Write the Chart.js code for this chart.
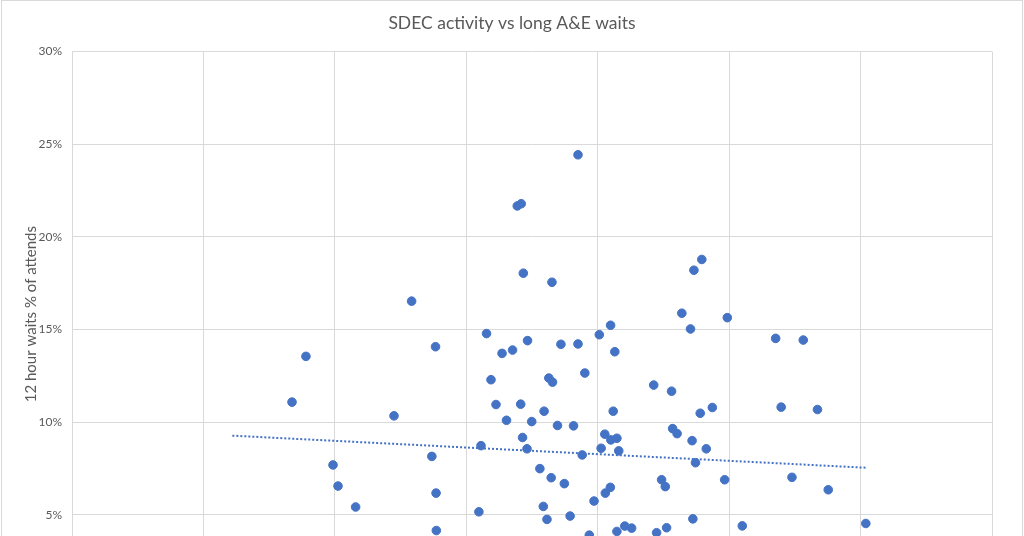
<!DOCTYPE html>
<html>
<head>
<meta charset="utf-8">
<script src="https://cdn.jsdelivr.net/npm/chart.js@4"></script>
<style>
  body { margin: 0; background: #fff; overflow: hidden; }
  #wrap { position: absolute; left: 1px; top: 0; width: 1020px; height: 700px; border: 1px solid #d9d9d9; }
</style>
</head>
<body>
<div id="wrap"><canvas id="myChart" width="1020" height="700"></canvas></div>
<script>
// SDEC activity (% of attends) - x values
var sdecPct = [8.37, 8.90, 9.93, 10.12, 10.79, 12.25, 12.92, 13.69, 13.83, 13.85,
    13.86, 15.48, 15.56, 15.77, 15.94, 16.13, 16.36, 16.53, 16.76, 16.94,
    17.09, 17.07, 17.14, 17.17, 17.31, 17.33, 17.49, 17.80, 17.93, 17.96,
    18.07, 18.14, 18.23, 18.28, 18.26, 18.47, 18.60, 18.73, 18.95, 19.08,
    19.25, 19.25, 19.41, 19.51, 19.68, 19.86, 20.06, 20.13, 20.27, 20.29,
    20.50, 20.48, 20.49, 20.59, 20.65, 20.73, 20.73, 20.80, 21.03, 21.29,
    22.13, 22.24, 22.43, 22.57, 22.62, 22.81, 22.85, 23.02, 23.20, 23.53,
    23.59, 23.62, 23.66, 23.72, 23.90, 23.96, 24.13, 24.36, 24.83, 24.93,
    25.50, 26.77, 26.98, 27.39, 27.82, 28.36, 28.77, 30.20, 22.82];

// 12 hour waits % of attends - y values
var waitsPct = [11.08, 13.55, 7.69, 6.55, 5.42, 10.34, 16.53, 8.15, 14.07, 6.17,
    4.15, 5.16, 8.73, 14.78, 12.29, 10.95, 13.71, 10.10, 13.89, 21.67,
    21.79, 10.97, 9.17, 18.04, 8.56, 14.40, 10.03, 7.49, 5.45, 10.59,
    4.75, 12.38, 7.00, 12.16, 17.55, 9.82, 14.20, 6.68, 4.93, 9.80,
    14.22, 24.43, 8.23, 12.65, 3.90, 5.74, 14.72, 8.59, 9.35, 6.17,
    9.04, 6.48, 15.23, 10.59, 13.80, 4.10, 9.13, 8.45, 4.39, 4.28,
    12.00, 4.03, 6.89, 6.52, 4.30, 11.67, 9.65, 9.38, 15.88, 15.03,
    9.00, 4.78, 18.20, 7.81, 10.48, 18.78, 8.56, 10.79, 6.89, 15.64,
    4.40, 14.52, 10.81, 7.02, 14.43, 10.68, 6.35, 4.53, 3.59];

// linear trendline end points
var trendX = [6.10, 30.19];
var trendY = [9.27, 7.54];

var yTicks = [0, 5, 10, 15, 20, 25, 30];

var chartTitle = 'SDEC activity vs long A&E waits';

var points = sdecPct.map(function (x, i) { return { x: x, y: waitsPct[i] }; });
var trend = trendX.map(function (x, i) { return { x: x, y: trendY[i] }; });

var grey = '#595959';
var gridCol = '#d9d9d9';

// title centred on the whole chart box (Excel style), not on the padded area
var centreTitle = {
    id: 'centreTitle',
    afterDraw: function (chart) {
        var c = chart.ctx;
        c.save();
        c.font = '17.5px Lato';
        c.fillStyle = grey;
        c.textAlign = 'center';
        c.textBaseline = 'middle';
        c.fillText(chartTitle, chart.width / 2, 22);
        c.restore();
    }
};

var ctx = document.getElementById("myChart");

var scatterChart = new Chart(ctx, {
    type: 'scatter',
    data: {
        datasets: [{
            label: 'Trusts',
            data: points,
            backgroundColor: '#4472c4',
            borderColor: '#4472c4',
            pointRadius: 4.3,
            pointHoverRadius: 4.3
        }, {
            label: 'Linear trend',
            data: trend,
            type: 'line',
            showLine: true,
            borderColor: '#4472c4',
            borderWidth: 2,
            borderDash: [2, 2],
            pointRadius: 0,
            fill: false
        }]
    },
    plugins: [centreTitle],
    options: {
        responsive: false,
        animation: false,
        devicePixelRatio: 1,
        layout: { padding: { top: 50.6, right: 30, bottom: 0, left: 0 } },
        plugins: {
            legend: { display: false },
            tooltip: { enabled: false },
            title: { display: false }
        },
        scales: {
            x: {
                type: 'linear',
                min: 0,
                max: 35,
                ticks: {
                    stepSize: 5,
                    color: grey,
                    font: { family: 'Lato', size: 12 },
                    callback: function (v) { return v + '%'; }
                },
                grid: { color: gridCol, drawTicks: false },
                border: { color: gridCol },
                afterFit: function (scale) { scale.height = 93.6; }
            },
            y: {
                min: 0,
                max: 30,
                afterBuildTicks: function (scale) {
                    scale.ticks = yTicks.map(function (v) { return { value: v }; });
                },
                ticks: {
                    color: grey,
                    padding: 10,
                    font: { family: 'Lato', size: 12 },
                    callback: function (v) { return v + '%'; }
                },
                grid: { color: gridCol, drawTicks: false },
                border: { color: gridCol },
                title: {
                    display: true,
                    // leading spaces nudge the rotated title up a little, as in the original
                    text: '        12 hour waits % of attends',
                    color: grey,
                    font: { family: 'Lato', size: 15 },
                    padding: { top: 20, bottom: 0 }
                },
                afterFit: function (scale) { scale.width = 70; }
            }
        }
    }
});
</script>
</body>
</html>
